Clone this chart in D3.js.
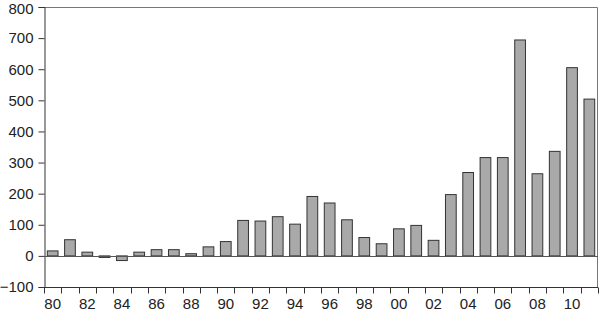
<!DOCTYPE html>
<html>
<head>
<meta charset="utf-8">
<script src="https://cdn.jsdelivr.net/npm/d3@7"></script>
<style>
  body { margin: 0; background: #fff; }
  text { font-family: "Liberation Sans", Arial, sans-serif; fill: #222; }
</style>
</head>
<body>
<div id="chart"></div>
<script>
// yearly values, 1980 - 2011
var years = d3.range(1980, 2012);
var values = [16, 52, 12, -5, -15, 12, 20, 20, 7, 29, 46, 114, 112, 126, 102, 191, 170, 116, 59, 39,
              87, 98, 50, 197, 268, 316, 316, 694, 264, 336, 605, 504];
var yTicks = [-100, 0, 100, 200, 300, 400, 500, 600, 700, 800];

var margin = {top: 7, right: 1, bottom: 24, left: 44},
  width = 599 - margin.left - margin.right,
  height = 311 - margin.top - margin.bottom;

var svg = d3.select("#chart")
  .append("svg")
    .attr("width", 599)
    .attr("height", 311)
  .append("g")
    .attr("transform", "translate(" + margin.left + "," + margin.top + ")");

var x = d3.scaleBand()
  .domain(years)
  .range([0, width])
  .paddingInner(0.38)
  .paddingOuter(0.19);

var y = d3.scaleLinear()
  .domain([-100, 800])
  .range([height, 0]);

// frame (top and right)
svg.append("path")
  .attr("d", "M0,0.5H" + (width - 0.5) + "V" + height)
  .attr("fill", "none")
  .attr("stroke", "#777")
  .attr("stroke-width", 1);

// y axis
var yAxis = svg.append("g")
  .attr("transform", "translate(0.5,0)")
  .call(d3.axisLeft(y).tickValues(yTicks).tickSize(6).tickPadding(5)
    .tickFormat(function(d) { return d < 0 ? "\u2212" + Math.abs(d) : d; }));
yAxis.selectAll("text").style("font-size", "15px");
// keep the top label inside the picture
yAxis.selectAll("text").filter(function(d) { return d === 800; }).attr("dy", "0.45em");
yAxis.selectAll("path, line").attr("stroke", "#333");

// x axis: ticks on band boundaries, labels on even years
var bounds = years.map(function(d) { return x(d) - x.step() * x.paddingInner() / 2; });
bounds.push(width);
var xAxis = svg.append("g")
  .attr("transform", "translate(0," + (height + 0.5) + ")");
xAxis.append("line")
  .attr("x1", 0).attr("x2", width)
  .attr("stroke", "#333");
xAxis.selectAll(".tk")
  .data(bounds)
  .enter()
  .append("line")
    .attr("x1", function(d) { return Math.round(d) + 0.5; })
    .attr("x2", function(d) { return Math.round(d) + 0.5; })
    .attr("y1", 0).attr("y2", 6)
    .attr("stroke", "#333");
xAxis.selectAll(".lb")
  .data(years.filter(function(d) { return d % 2 === 0; }))
  .enter()
  .append("text")
    .attr("x", function(d) { return x(d) + x.bandwidth() / 2; })
    .attr("y", 21)
    .attr("text-anchor", "middle")
    .style("font-size", "15px")
    .text(function(d) { return String(d).slice(2); });

// bars
svg.selectAll(".bar")
  .data(values)
  .enter()
  .append("rect")
    .attr("x", function(d, i) { return x(years[i]); })
    .attr("y", function(d) { return y(Math.max(0, d)); })
    .attr("width", x.bandwidth())
    .attr("height", function(d) { return Math.abs(y(d) - y(0)); })
    .attr("fill", "#a9a9a9")
    .attr("stroke", "#333")
    .attr("stroke-width", 1);

// zero line
svg.append("line")
  .attr("x1", 0).attr("x2", width)
  .attr("y1", Math.round(y(0)) + 0.5).attr("y2", Math.round(y(0)) + 0.5)
  .attr("stroke", "#555");
</script>
</body>
</html>
